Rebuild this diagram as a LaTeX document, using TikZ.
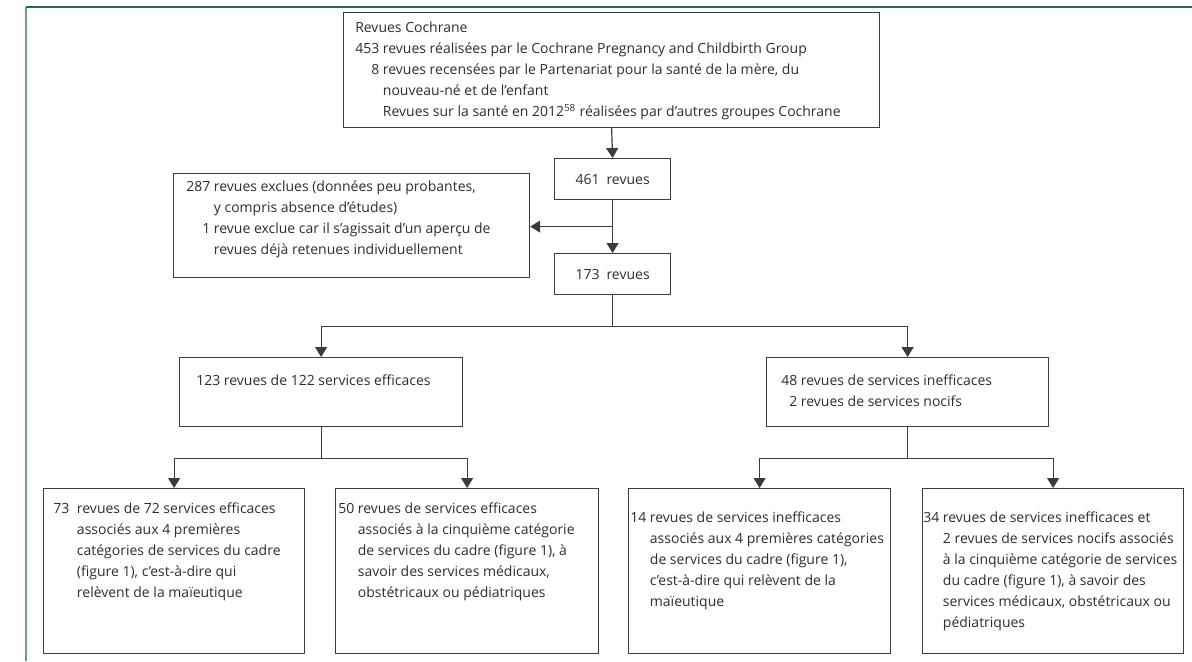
\documentclass[tikz,border=0pt]{standalone}
\usepackage{fontspec}
\setmainfont{Open Sans}
\usetikzlibrary{arrows.meta,calc}
\definecolor{framegreen}{RGB}{32,108,72}
\definecolor{framelight}{RGB}{96,166,126}
\definecolor{ink}{RGB}{60,60,60}
\definecolor{inktext}{RGB}{45,45,45}
\newcommand\pxu{0.75pt}
\newcommand\tfont{\fontsize{10.5}{15.75}\selectfont}
\begin{document}
\begin{tikzpicture}[x=0.75pt,y=-0.75pt,
  box/.style={draw=ink, line width=0.9pt, rectangle, inner sep=0pt, anchor=north west},
  midbox/.style={draw=ink, line width=0.9pt, rectangle, inner sep=0pt, anchor=north west,
    font=\tfont, text=inktext},
  txt/.style={anchor=north west, inner sep=0pt, text=inktext, font=\tfont},
  link/.style={draw=ink, line width=0.9pt},
  arr/.style={link, -{Triangle[width=9pt,length=7.5pt]}},
  framerule/.style={draw=framegreen, line width=1.1pt},
  framerulelight/.style={draw=framelight, line width=1.5pt}]
\useasboundingbox (0,0) rectangle (1192,661);

% page frame
\draw[framerulelight] (26,661) -- (26,7);
\draw[framerule] (26,7) -- (1192,7);

% boxes
\node[box, minimum width=536*\pxu, minimum height=115*\pxu] (top) at (343,12) {};
\node[midbox, minimum width=116*\pxu, minimum height=41*\pxu] (n461) at (554,158) {461\enspace revues};
\node[box, minimum width=356*\pxu, minimum height=104*\pxu] (excl) at (173,173) {};
\node[midbox, minimum width=116*\pxu, minimum height=41*\pxu] (n173) at (554,253) {173\enspace revues};
\node[box, minimum width=283*\pxu, minimum height=69*\pxu] (eff) at (179,357) {};
\node[box, minimum width=282*\pxu, minimum height=69*\pxu] (ineff) at (766,357) {};
\node[box, minimum width=261*\pxu, minimum height=165*\pxu] (b1) at (43,488) {};
\node[box, minimum width=263*\pxu, minimum height=165*\pxu] (b2) at (335,488) {};
\node[box, minimum width=262*\pxu, minimum height=165*\pxu] (b3) at (628,488) {};
\node[box, minimum width=261*\pxu, minimum height=165*\pxu] (b4) at (922,488) {};

% texts
\node[txt] (topT) at (355,18) {\begin{tabular}{@{}r@{\ }l@{}}
\multicolumn{2}{@{}l@{}}{Revues Cochrane}\\
453 & revues réalisées par le Cochrane Pregnancy and Childbirth Group\\
8 & revues recensées par le Partenariat pour la santé de la mère, du\\
 & nouveau-né et de l’enfant\\
 & Revues sur la santé en 2012\textsuperscript{58} réalisées par d’autres groupes Cochrane
\end{tabular}};

\node[txt] (exclT) at (186,177) {\begin{tabular}{@{}r@{\ }l@{}}
287 & revues exclues (données peu probantes,\\
 & y compris absence d’études)\\
1 & revue exclue car il s’agissait d’un aperçu de\\
 & revues déjà retenues individuellement
\end{tabular}};

\node[txt] (effT) at (196,371) {\begin{tabular}{@{}l@{}}
123 revues de 122 services efficaces
\end{tabular}};

\node[txt] (ineffT) at (781,371) {\begin{tabular}{@{}r@{\ }l@{}}
48 & revues de services inefficaces\\
2 & revues de services nocifs
\end{tabular}};

\node[txt] (b1T) at (53,499) {\begin{tabular}{@{}r@{\hspace{0.55em}}l@{}}
73 & revues de 72 services efficaces\\
 & associés aux 4 premières\\
 & catégories de services du cadre\\
 & (figure 1), c’est-à-dire qui\\
 & relèvent de la maïeutique
\end{tabular}};

\node[txt] (b2T) at (338,499) {\begin{tabular}{@{}r@{\ }l@{}}
50 & revues de services efficaces\\
 & associés à la cinquième catégorie\\
 & de services du cadre (figure 1), à\\
 & savoir des services médicaux,\\
 & obstétricaux ou pédiatriques
\end{tabular}};

\node[txt] (b3T) at (630,508) {\begin{tabular}{@{}r@{\ }l@{}}
14 & revues de services inefficaces\\
 & associés aux 4 premières catégories\\
 & de services du cadre (figure 1),\\
 & c’est-à-dire qui relèvent de la\\
 & maïeutique
\end{tabular}};

\node[txt] (b4T) at (923,508) {\begin{tabular}{@{}r@{\ }l@{}}
34 & revues de services inefficaces et\\
 & 2 revues de services nocifs associés\\
 & à la cinquième catégorie de services\\
 & du cadre (figure 1), à savoir des\\
 & services médicaux, obstétricaux ou\\
 & pédiatriques
\end{tabular}};

% connectors
\draw[arr] (top.south) -- (n461.north);
\draw[arr] (n461.south) -- (n173.north);
\coordinate (j1) at ($(n461.south)!0.5!(n173.north)$);
\draw[arr] (j1) -- (j1 -| excl.east);

\coordinate (s1) at ($(n173.south)+(0,31)$);
\draw[link] (n173.south) -- (s1);
\draw[arr] (s1) -| (eff.north);
\draw[arr] (s1) -| (ineff.north);

\coordinate (s2) at ($(eff.south)+(0,31)$);
\draw[link] (eff.south) -- (s2);
\draw[arr] (s2) -| (b1.north);
\draw[arr] (s2) -| (b2.north);

\coordinate (s3) at ($(ineff.south)+(0,31)$);
\draw[link] (ineff.south) -- (s3);
\draw[arr] (s3) -| (b3.north);
\draw[arr] (s3) -| (b4.north);
\end{tikzpicture}
\end{document}
